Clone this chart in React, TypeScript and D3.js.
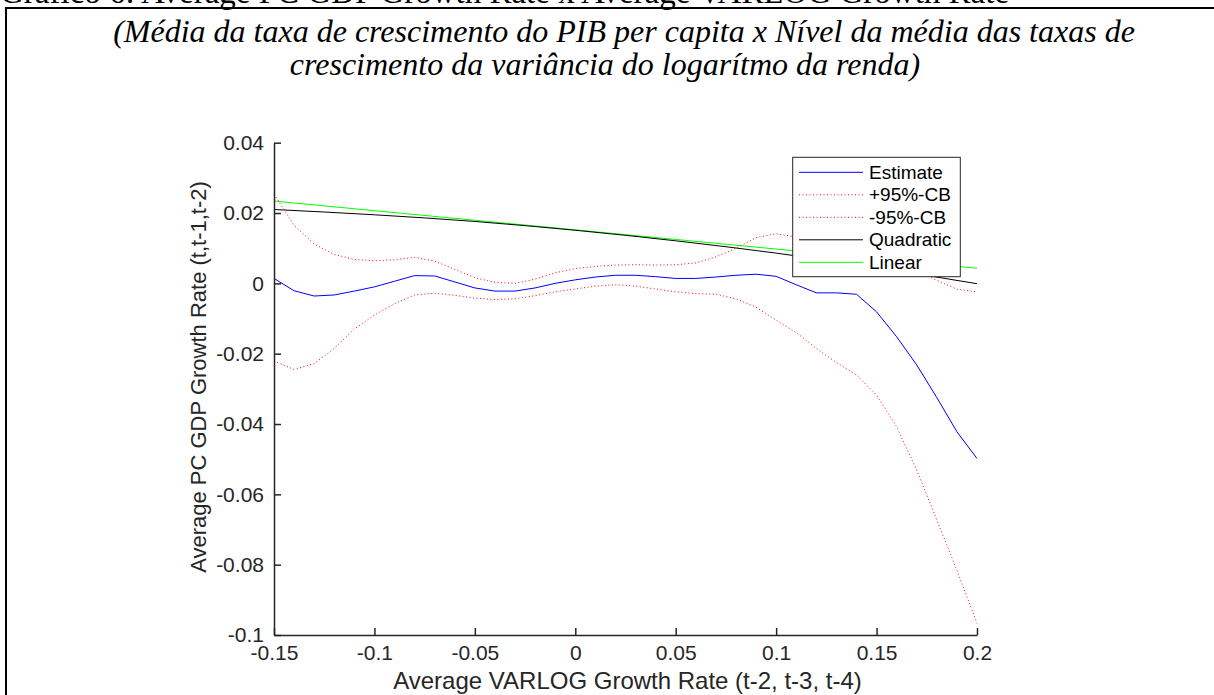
import React, { useEffect, useRef } from 'react';
import * as d3 from 'd3';

const xGrid = [-0.15, -0.14, -0.13, -0.12, -0.11, -0.1, -0.09, -0.08, -0.07, -0.06, -0.05, -0.04, -0.03, -0.02, -0.01, 0, 0.01, 0.02, 0.03, 0.04, 0.05, 0.06, 0.07, 0.08, 0.09, 0.1, 0.11, 0.12, 0.13, 0.14, 0.15, 0.16, 0.17, 0.18, 0.19, 0.2];
const estimate = [0.0014, -0.0021, -0.0036, -0.0033, -0.0022, -0.001, 0.0006, 0.0022, 0.0021, 0.0004, -0.0013, -0.0022, -0.0022, -0.0013, 0.0, 0.001, 0.0018, 0.0023, 0.0023, 0.0019, 0.0014, 0.0014, 0.0018, 0.0023, 0.0026, 0.002, -0.0004, -0.0027, -0.0027, -0.0031, -0.0081, -0.0152, -0.0232, -0.0325, -0.0422, -0.0498];
const upperCB = [0.0254, 0.0165, 0.0112, 0.0082, 0.0068, 0.0064, 0.0067, 0.0074, 0.0063, 0.004, 0.0016, 0.0003, 0.0, 0.0012, 0.003, 0.0042, 0.0048, 0.0052, 0.0053, 0.0052, 0.0053, 0.0058, 0.0075, 0.01, 0.013, 0.0141, 0.0132, 0.0118, 0.0103, 0.0088, 0.0072, 0.0055, 0.0035, 0.0009, -0.0017, -0.0024];
const lowerCB = [-0.0221, -0.0245, -0.0228, -0.0185, -0.013, -0.009, -0.0058, -0.0033, -0.0028, -0.0034, -0.0042, -0.0046, -0.0044, -0.0035, -0.0024, -0.0016, -0.0008, -0.0004, -0.0008, -0.0016, -0.0024, -0.0029, -0.0031, -0.0044, -0.0068, -0.0105, -0.014, -0.0185, -0.0225, -0.026, -0.0318, -0.0408, -0.0531, -0.0673, -0.0816, -0.0967];
const quadX = [-0.15, -0.1, -0.05, 0, 0.05, 0.1, 0.15, 0.2];
const quadratic = [0.021, 0.0195, 0.0176, 0.0151, 0.0121, 0.0086, 0.0045, -0.0001];
const linearX = [-0.15, 0.2];
const linear = [0.0234, 0.0043];
const xTicks = [-0.15, -0.1, -0.05, 0, 0.05, 0.1, 0.15, 0.2];
const yTicks = [-0.1, -0.08, -0.06, -0.04, -0.02, 0, 0.02, 0.04];
const legendLabels = ['Estimate', '+95%-CB', '-95%-CB', 'Quadratic', 'Linear'];
const seriesColors = ['#0000ff', '#ff0000', '#ff0000', '#000000', '#00ff00'];
const seriesDash = [null, '1,2.5', '1,2.5', null, null];

const topTitle = 'Gráfico 6: Average PC GDP Growth Rate x Average VARLOG Growth Rate';
const subtitle1 = '(Média da taxa de crescimento do PIB per capita x Nível da média das taxas de';
const subtitle2 = 'crescimento da variância do logarítmo da renda)';
const xLabel = 'Average VARLOG Growth Rate (t-2, t-3, t-4)';
const yLabel = 'Average PC GDP Growth Rate (t,t-1,t-2)';

const W = 1214;
const H = 695;
const X0 = 274, X1 = 977, Y0 = 635, Y1 = 142.7;
const sans = '"Liberation Sans", Arial, sans-serif';
const serif = '"Liberation Serif", "Times New Roman", serif';

export default function App() {
  const xAxisRef = useRef<SVGGElement>(null);
  const yAxisRef = useRef<SVGGElement>(null);
  const x = d3.scaleLinear().domain([-0.15, 0.2]).range([X0, X1]);
  const y = d3.scaleLinear().domain([-0.1, 0.04]).range([Y0, Y1]);
  const fmt = (d: number) => String(+d.toFixed(2));

  useEffect(() => {
    const xa = d3.axisBottom(x).tickValues(xTicks).tickSizeInner(-7).tickSizeOuter(0).tickPadding(10).tickFormat((d: any) => fmt(d));
    const ya = d3.axisLeft(y).tickValues(yTicks).tickSizeInner(-7).tickSizeOuter(0).tickPadding(10).tickFormat((d: any) => fmt(d));
    const gx = d3.select(xAxisRef.current!);
    gx.call(xa as any);
    const gy = d3.select(yAxisRef.current!);
    gy.call(ya as any);
    [gx, gy].forEach((g) => {
      g.attr('font-family', sans).attr('font-size', 21);
      g.selectAll('path').attr('stroke', '#262626').attr('stroke-width', 1.5);
      g.selectAll('line').attr('stroke', '#262626').attr('stroke-width', 1.5);
      g.selectAll('text').attr('fill', '#262626');
    });
  }, []);

  const series = [
    xGrid.map((d, i) => [d, estimate[i]]),
    xGrid.map((d, i) => [d, upperCB[i]]),
    xGrid.map((d, i) => [d, lowerCB[i]]),
    quadX.map((d, i) => [d, quadratic[i]]),
    linearX.map((d, i) => [d, linear[i]]),
  ];
  const lineGen = d3.line<number[]>().x((d) => x(d[0])).y((d) => y(d[1]));
  const curveGen = d3.line<number[]>().x((d) => x(d[0])).y((d) => y(d[1])).curve(d3.curveMonotoneX);
  const drawOrder = [4, 3, 1, 2, 0];

  const legX = 792.7, legY = 157.3, legW = 167.6, legH = 119.4;

  return (
    <svg width={W} height={H} style={{ position: 'absolute', left: 0, top: 0, background: '#fff' }}>
      <rect x={0} y={0} width={W} height={H} fill="#fff" />
      <text x={0} y={3} fontFamily={serif} fontSize={33} fill="#000">{topTitle}</text>
      <line x1={6} x2={W} y1={8} y2={8} stroke="#000" strokeWidth={2} />
      <line x1={6} x2={6} y1={7} y2={H} stroke="#000" strokeWidth={2} />
      <text x={624} y={42} textAnchor="middle" fontFamily={serif} fontStyle="italic" fontSize={32} fill="#000">{subtitle1}</text>
      <text x={605} y={75} textAnchor="middle" fontFamily={serif} fontStyle="italic" fontSize={32} fill="#000">{subtitle2}</text>

      <g>
        {drawOrder.map((si) => (
          <path key={si} d={(si === 3 ? curveGen : lineGen)(series[si] as any) || ''} fill="none" stroke={seriesColors[si]} strokeWidth={1} strokeDasharray={seriesDash[si] || undefined} />
        ))}
      </g>
      <g ref={xAxisRef} transform={`translate(0,${Y0})`} />
      <g ref={yAxisRef} transform={`translate(${X0},0)`} />

      <text x={(X0 + X1) / 2 + 2} y={689} textAnchor="middle" fontFamily={sans} fontSize={24} fill="#262626">{xLabel}</text>
      <text transform={`translate(206,377) rotate(-90)`} textAnchor="middle" fontFamily={sans} fontSize={22} fill="#262626">{yLabel}</text>

      <g>
        <rect x={legX} y={legY} width={legW} height={legH} fill="#fff" stroke="#262626" strokeWidth={1} />
        {legendLabels.map((lab, i) => {
          const ry = legY + 15 + i * 22.5;
          return (
            <g key={lab}>
              <line x1={799} x2={863} y1={ry} y2={ry} stroke={seriesColors[i]} strokeWidth={1} strokeDasharray={seriesDash[i] || undefined} />
              <text x={869} y={ry} dy="0.35em" fontFamily={sans} fontSize={19} fill="#000">{lab}</text>
            </g>
          );
        })}
      </g>
    </svg>
  );
}
